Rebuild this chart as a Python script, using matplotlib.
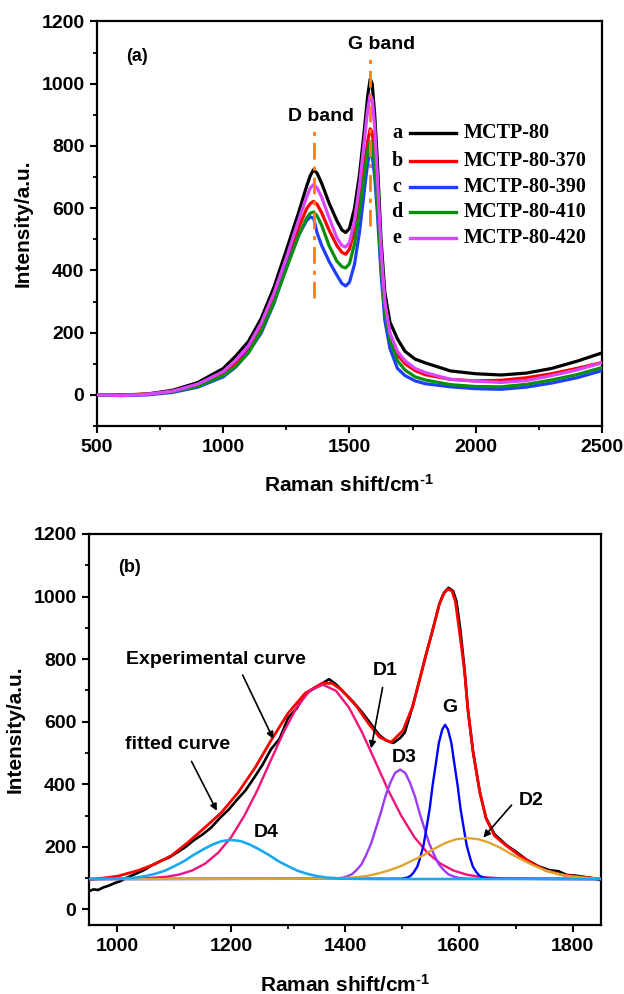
import matplotlib
matplotlib.use('Agg')
import matplotlib.pyplot as plt
from matplotlib.ticker import MultipleLocator

plt.rcParams['font.family'] = ['Liberation Sans', 'DejaVu Sans']
plt.rcParams['font.weight'] = 'bold'
plt.rcParams['axes.labelweight'] = 'bold'
plt.rcParams['mathtext.fontset'] = 'custom'
plt.rcParams['mathtext.rm'] = 'Liberation Sans:bold'
plt.rcParams['mathtext.it'] = 'Liberation Sans:bold'
plt.rcParams['mathtext.bf'] = 'Liberation Sans:bold'

# ---------------- Panel (a) data ----------------
shift_a = [500, 600, 700, 800, 900, 1000, 1050, 1100, 1150, 1200, 1250, 1300, 1330, 1345,
           1358, 1372, 1390, 1420, 1450, 1470, 1485, 1500, 1520, 1540, 1560, 1572, 1582,
           1590, 1600, 1610, 1625, 1640, 1660, 1690, 1720, 1760, 1800, 1900, 2000, 2100,
           2200, 2300, 2400, 2500]
mctp80 = [0, -2, 3, 15, 40, 85, 125, 172, 245, 344, 465, 590, 670, 705,
          724, 712, 680, 615, 560, 530, 522, 535, 600, 710, 860, 960, 1015,
          1000, 900, 760, 500, 330, 235, 180, 140, 115, 103, 77, 68, 64,
          70, 85, 108, 135]
mctp80_370 = [0, 0, 3, 12, 33, 70, 105, 150, 220, 312, 425, 540, 598, 615,
              622, 612, 585, 528, 480, 458, 452, 468, 530, 625, 745, 815, 855,
              845, 770, 650, 440, 290, 195, 130, 100, 78, 65, 50, 45, 47,
              55, 68, 85, 104]
mctp80_390 = [0, -2, 0, 8, 25, 58, 90, 138, 198, 292, 412, 515, 560, 572,
              568, 520, 480, 428, 385, 358, 350, 362, 420, 525, 665, 745, 780,
              770, 700, 590, 390, 240, 150, 85, 62, 45, 36, 26, 20, 18,
              25, 38, 55, 78]
mctp80_410 = [0, 0, 2, 10, 28, 62, 92, 135, 205, 295, 405, 515, 568, 584,
              588, 575, 545, 478, 430, 412, 408, 422, 485, 590, 715, 785, 815,
              805, 735, 620, 420, 270, 175, 110, 80, 58, 48, 33, 27, 26,
              34, 48, 65, 88]
mctp80_420 = [0, -2, 2, 12, 35, 75, 112, 158, 230, 325, 440, 565, 635, 665,
              676, 665, 635, 568, 505, 480, 475, 490, 560, 675, 825, 915, 965,
              950, 860, 710, 470, 300, 200, 140, 110, 85, 72, 50, 44, 40,
              46, 62, 80, 103]
series_letters = ['a', 'b', 'c', 'd', 'e']
series_names = ['MCTP-80', 'MCTP-80-370', 'MCTP-80-390', 'MCTP-80-410', 'MCTP-80-420']
series_colors = ['#000000', '#FF0000', '#1F3FFF', '#0A8F0A', '#DD44FF']

d_band_x = [1360, 1360]
d_band_y = [312, 857]
g_band_x = [1582, 1582]
g_band_y = [542, 1082]

# ---------------- Panel (b) data ----------------
exp_x = [950, 958, 966, 975, 985, 995, 1005, 1015, 1030, 1045, 1060, 1075, 1090, 1105, 1120,
         1135, 1150, 1165, 1180, 1195, 1210, 1225, 1240, 1255, 1270, 1285, 1300, 1315, 1330,
         1345, 1360, 1372, 1385, 1400, 1415, 1430, 1445, 1460, 1472, 1485, 1497, 1505, 1519,
         1531, 1543, 1554, 1566, 1574, 1582, 1590, 1596, 1603, 1610, 1616, 1625, 1637, 1648,
         1663, 1684, 1700, 1720, 1740, 1760, 1775, 1790, 1805, 1820, 1835, 1848]
exp_y = [58, 64, 62, 70, 76, 84, 90, 100, 112, 124, 140, 154, 165, 182, 200,
         222, 240, 262, 292, 318, 350, 380, 420, 462, 512, 545, 612, 642, 688,
         706, 722, 736, 718, 690, 662, 630, 594, 558, 540, 532, 548, 565, 649,
         733, 818, 892, 977, 1012, 1028, 1018, 985, 890, 770, 640, 505, 375, 292,
         240, 205, 185, 158, 138, 125, 122, 110, 108, 104, 100, 94]

fit_x = [950, 975, 1000, 1036, 1066, 1095, 1124, 1154, 1183, 1212, 1242, 1271, 1300, 1330,
         1359, 1377, 1395, 1420, 1443, 1461, 1481, 1502, 1519, 1531, 1543, 1554, 1566, 1574,
         1581, 1588, 1594, 1601, 1610, 1616, 1625, 1637, 1648, 1663, 1684, 1707, 1736, 1754,
         1783, 1818, 1850]
fit_y = [95, 100, 106, 124, 145, 172, 214, 262, 310, 373, 453, 543, 627, 691,
         722, 723, 700, 650, 590, 550, 534, 572, 649, 733, 818, 892, 977, 1010,
         1024, 1018, 985, 892, 765, 640, 505, 375, 290, 235, 203, 172, 140, 124,
         110, 103, 97]

d1_x = [950, 1039, 1085, 1108, 1131, 1154, 1177, 1200, 1223, 1246, 1269, 1292, 1315, 1338,
        1361, 1384, 1407, 1430, 1453, 1476, 1499, 1522, 1545, 1568, 1591, 1614, 1637, 1683,
        1850]
d1_y = [97, 98, 104, 111, 124, 146, 181, 231, 299, 381, 474, 566, 645, 699,
        718, 699, 645, 566, 474, 381, 299, 231, 181, 146, 124, 111, 104, 98,
        97]

d3_x = [950, 1378, 1395, 1403, 1412, 1420, 1429, 1437, 1446, 1454, 1463, 1471, 1480, 1488,
        1497, 1506, 1514, 1523, 1531, 1540, 1548, 1557, 1565, 1574, 1582, 1591, 1599, 1616,
        1850]
d3_y = [97, 98, 101, 105, 112, 125, 144, 173, 211, 257, 309, 361, 406, 436,
        447, 436, 406, 361, 309, 257, 211, 173, 144, 125, 112, 105, 101, 98,
        97]

g_x = [950, 1499, 1510, 1516, 1521, 1527, 1532, 1538, 1543, 1549, 1554, 1560, 1565, 1571,
       1576, 1581, 1587, 1592, 1598, 1603, 1609, 1614, 1620, 1625, 1631, 1636, 1642, 1653,
       1850]
g_y = [97, 98, 102, 108, 119, 136, 164, 204, 257, 323, 396, 469, 532, 575,
       590, 575, 532, 469, 396, 323, 257, 204, 164, 136, 119, 108, 102, 98,
       97]

d2_x = [950, 1381, 1400, 1420, 1439, 1459, 1478, 1498, 1517, 1537, 1556, 1576, 1595, 1615,
        1635, 1654, 1674, 1693, 1713, 1732, 1752, 1771, 1791, 1810, 1830, 1850]
d2_y = [97, 98, 100, 103, 107, 115, 125, 138, 155, 172, 193, 212, 224, 228,
        224, 213, 196, 176, 157, 140, 125, 115, 107, 103, 100, 98]

d4_x = [950, 1001, 1018, 1034, 1051, 1067, 1084, 1100, 1117, 1133, 1150, 1167, 1183, 1200,
        1217, 1233, 1250, 1267, 1283, 1300, 1316, 1333, 1349, 1366, 1382, 1399, 1450, 1850]
d4_y = [97, 98, 100, 102, 107, 114, 124, 138, 154, 173, 191, 207, 218, 222,
        218, 207, 191, 173, 154, 138, 124, 114, 107, 102, 100, 98, 97, 97]

# ---------------- Figure ----------------
fig = plt.figure(figsize=(6.24, 9.94), dpi=100)
axA = fig.add_axes([0.1554, 0.5714, 0.8093, 0.4070])
axB = fig.add_axes([0.1426, 0.0694, 0.8205, 0.3934])

FS = 14


def style_axis(ax):
    for sp in ax.spines.values():
        sp.set_linewidth(1.6)
    ax.tick_params(which='major', direction='out', length=5, width=1.5,
                   labelsize=FS, top=False, right=False, pad=4)
    ax.tick_params(which='minor', direction='out', length=3, width=1.3,
                   top=False, right=False)
    for lab in ax.get_xticklabels() + ax.get_yticklabels():
        lab.set_fontweight('bold')


XLAB = r'Raman shift/cm$^{\text{-1}}$'

# Panel (a)
all_series = [mctp80, mctp80_370, mctp80_390, mctp80_410, mctp80_420]
order = [0, 2, 3, 1, 4]
for i in order:
    axA.plot(shift_a, all_series[i], color=series_colors[i], lw=2.3, zorder=2 + i,
             solid_joinstyle='round')

dd = (0, (6, 2.5, 1.5, 2.5))
axA.plot(d_band_x, d_band_y, color='#FF7A1A', lw=2.0, linestyle=dd, zorder=8)
axA.plot(g_band_x, g_band_y, color='#FF7A1A', lw=2.0, linestyle=dd, zorder=8)

axA.set_xlim(500, 2500)
axA.set_ylim(-100, 1200)
axA.xaxis.set_major_locator(MultipleLocator(500))
axA.xaxis.set_minor_locator(MultipleLocator(250))
axA.yaxis.set_major_locator(MultipleLocator(200))
axA.yaxis.set_minor_locator(MultipleLocator(100))
style_axis(axA)
axA.set_xlabel(XLAB, fontsize=15, fontweight='bold', labelpad=13)
axA.set_ylabel('Intensity/a.u.', fontsize=15, fontweight='bold', labelpad=6)

axA.text(658, 1086, '(a)', fontsize=13, fontweight='bold', ha='center', va='center')
axA.text(1386, 895, 'D band', fontsize=14, fontweight='bold', ha='center', va='center')
axA.text(1629, 1126, 'G band', fontsize=14, fontweight='bold', ha='center', va='center')

# manual legend (axes fraction)
leg_rows = [0.724, 0.654, 0.592, 0.530, 0.464]
for i in range(5):
    yy = leg_rows[i]
    axA.text(0.594, yy, series_letters[i], transform=axA.transAxes, ha='center', va='center',
             fontsize=14.5, fontweight='bold', family=['Liberation Serif', 'DejaVu Serif'])
    axA.plot([0.620, 0.710], [yy, yy], transform=axA.transAxes, color=series_colors[i], lw=2.4)
    axA.text(0.726, yy, series_names[i], transform=axA.transAxes, ha='left', va='center',
             fontsize=14.5, fontweight='bold', family=['Liberation Serif', 'DejaVu Serif'])

# Panel (b)
axB.plot(exp_x, exp_y, color='black', lw=1.9, zorder=2, solid_joinstyle='round')
axB.plot(fit_x, fit_y, color='#FF0000', lw=2.0, zorder=3, solid_joinstyle='round')
axB.plot(d1_x, d1_y, color='#F0147A', lw=1.7, zorder=4)
axB.plot(d3_x, d3_y, color='#9B3CF5', lw=1.7, zorder=4)
axB.plot(g_x, g_y, color='#0000FF', lw=1.7, zorder=5)
axB.plot(d2_x, d2_y, color='#E0A530', lw=1.7, zorder=5)
axB.plot(d4_x, d4_y, color='#18A8F0', lw=1.9, zorder=6)

axB.set_xlim(950, 1850)
axB.set_ylim(-50, 1200)
axB.xaxis.set_major_locator(MultipleLocator(200))
axB.xaxis.set_minor_locator(MultipleLocator(100))
axB.yaxis.set_major_locator(MultipleLocator(200))
axB.yaxis.set_minor_locator(MultipleLocator(100))
style_axis(axB)
axB.set_xlabel(XLAB, fontsize=15, fontweight='bold', labelpad=14)
axB.set_ylabel('Intensity/a.u.', fontsize=15, fontweight='bold', labelpad=6)

axB.text(1022, 1094, '(b)', fontsize=13, fontweight='bold', ha='center', va='center')
arrow = dict(arrowstyle='-|>', color='black', lw=1.2, mutation_scale=10)
axB.text(1015, 800, 'Experimental curve', fontsize=14, fontweight='bold', ha='left', va='center')
axB.annotate('', xy=(1276, 537), xytext=(1218, 757), arrowprops=arrow)
axB.text(1013, 527, 'fitted curve', fontsize=14, fontweight='bold', ha='left', va='center')
axB.annotate('', xy=(1177, 307), xytext=(1128, 481), arrowprops=arrow)
axB.text(1471, 765, 'D1', fontsize=14, fontweight='bold', ha='center', va='center')
axB.annotate('', xy=(1445, 506), xytext=(1467, 718), arrowprops=arrow)
axB.text(1584, 644, 'G', fontsize=14, fontweight='bold', ha='center', va='center')
axB.text(1504, 485, 'D3', fontsize=14, fontweight='bold', ha='center', va='center')
axB.text(1727, 347, 'D2', fontsize=14, fontweight='bold', ha='center', va='center')
axB.annotate('', xy=(1640, 223), xytext=(1696, 340), arrowprops=arrow)
axB.text(1262, 246, 'D4', fontsize=14, fontweight='bold', ha='center', va='center')

fig.savefig('out.png', dpi=100)
